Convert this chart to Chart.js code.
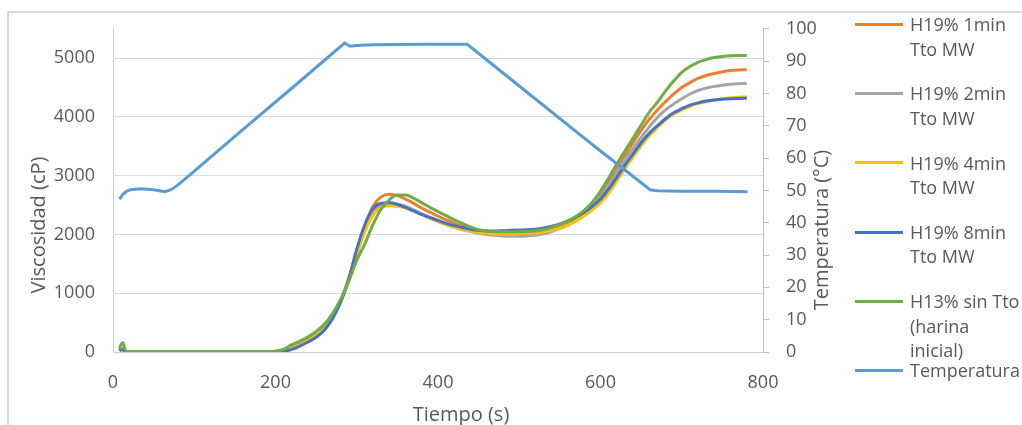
<!DOCTYPE html>
<html><head><meta charset="utf-8">
<script src="https://cdn.jsdelivr.net/npm/chart.js@4"></script>
<style>
html,body{margin:0;padding:0;background:#fff;overflow:hidden;width:1022px;height:425px;}
#wrap{position:relative;width:1022px;height:425px;overflow:hidden;}
#frame{position:absolute;left:7px;top:11px;width:1200px;height:600px;border:2px solid #d9d9d9;}
#c{position:absolute;left:0;top:0;}
#legend{position:absolute;left:0;top:0;width:1022px;height:425px;font-family:'Open Sans';font-size:18px;color:#595959;}
.sw{position:absolute;left:855px;width:48px;height:3px;}
.tx{position:absolute;left:910px;line-height:24.5px;white-space:nowrap;}
</style></head>
<body><div id="wrap"><div id="frame"></div><canvas id="c" width="1022" height="425"></canvas><div id="legend"></div></div>
<script>
// ---- data ----
const time = [8,10,12,14,16,20,40,80,120,160,190,200,210,220,230,240,250,260,270,280,290,300,310,320,330,340,350,360,370,380,390,400,410,420,430,440,450,460,470,480,490,500,510,520,530,540,550,560,570,580,590,600,610,620,630,640,650,660,670,680,690,700,710,720,730,740,750,760,770,780];
const h19_1min = [30,60,60,25,5,2,2,2,0,0,5,15,40,90,150,220,300,430,620,880,1250,1720,2150,2480,2640,2685,2660,2600,2530,2450,2380,2310,2250,2190,2140,2100,2070,2050,2030,2020,2020,2020,2025,2035,2055,2090,2140,2200,2280,2380,2510,2690,2900,3120,3340,3560,3770,3960,4120,4260,4390,4500,4585,4655,4705,4740,4770,4790,4800,4805];
const h19_2min = [30,60,60,25,5,2,2,2,0,0,5,10,30,75,130,200,290,420,610,870,1230,1680,2100,2400,2500,2540,2520,2480,2420,2350,2280,2220,2170,2120,2080,2050,2020,2000,1985,1975,1970,1970,1975,1985,2010,2050,2100,2160,2240,2340,2470,2640,2830,3050,3270,3460,3650,3830,3990,4120,4220,4310,4390,4450,4490,4520,4540,4555,4565,4570];
const h19_4min = [30,60,60,25,5,2,2,2,0,0,5,10,30,70,120,190,280,400,590,860,1220,1650,2050,2330,2460,2490,2480,2450,2400,2340,2280,2220,2170,2120,2090,2060,2040,2020,2010,2010,2010,2015,2020,2025,2040,2070,2110,2160,2230,2320,2420,2540,2700,2910,3120,3320,3510,3680,3820,3950,4050,4120,4180,4230,4260,4290,4310,4325,4335,4340];
const h19_8min = [20,40,40,15,3,0,0,0,0,0,0,0,10,45,100,170,250,370,560,840,1230,1750,2170,2440,2530,2540,2510,2460,2400,2340,2290,2240,2190,2150,2120,2090,2070,2060,2060,2065,2070,2075,2080,2090,2110,2140,2180,2230,2300,2380,2480,2600,2770,2970,3180,3370,3560,3720,3850,3970,4070,4140,4200,4240,4270,4290,4300,4310,4315,4318];
const h13_sin = [60,130,160,80,10,5,5,5,3,3,5,15,45,125,185,260,350,470,650,890,1200,1560,1840,2170,2430,2590,2670,2670,2620,2540,2460,2390,2320,2250,2190,2130,2080,2060,2050,2045,2045,2045,2050,2060,2080,2120,2170,2230,2310,2410,2550,2740,2960,3200,3420,3640,3860,4080,4250,4440,4610,4760,4860,4930,4975,5010,5030,5040,5045,5045];
const tempTime = [8,12,17,23,35,50,64,72,80,90,150,220,285,292,300,320,380,436,500,575,600,625,661,670,700,740,781];
const tempC = [47.3,48.7,49.8,50.3,50.5,50.2,49.6,50.3,51.7,53.8,66.7,81.6,95.6,94.6,94.8,95.1,95.2,95.2,82.3,67.2,62.2,57.3,50.2,49.9,49.7,49.7,49.6];
const seriesLabels = [["H19% 1min","Tto MW"],["H19% 2min","Tto MW"],["H19% 4min","Tto MW"],["H19% 8min","Tto MW"],["H13% sin Tto","(harina","inicial)"],["Temperatura"]];
const xTicks = [0,200,400,600,800];
const yLeftTicks = [0,1000,2000,3000,4000,5000];
const yRightTicks = [0,10,20,30,40,50,60,70,80,90,100];
const xTitle = "Tiempo (s)";
const yLeftTitle = "Viscosidad (cP)";
const yRightTitle = "Temperatura (°C)";
// ---- styling ----
const colors = ["#ED7D31","#A5A5A5","#FFC000","#4472C4","#70AD47","#5B9BD5"];
const FONT = "'Open Sans'";
const TXT = "#595959";

const toXY = (xs, ys) => xs.map((x, i) => ({x, y: ys[i]}));
const visc = [h19_1min, h19_2min, h19_4min, h19_8min, h13_sin];
const datasets = visc.map((vals, i) => ({
  label: seriesLabels[i].join(' '),
  data: toXY(time, vals),
  borderColor: colors[i], backgroundColor: colors[i],
  borderWidth: 3, pointRadius: 0, tension: 0.4, cubicInterpolationMode: 'monotone',
  yAxisID: 'y', order: 6 - i
}));
datasets.push({
  label: seriesLabels[5].join(' '),
  data: toXY(tempTime, tempC),
  borderColor: colors[5], backgroundColor: colors[5],
  borderWidth: 3, pointRadius: 0, tension: 0, yAxisID: 'y1', order: 0
});

const axisTitles = {
  id: 'axisTitles',
  afterDraw(chart) {
    const ctx = chart.ctx;
    ctx.save();
    ctx.fillStyle = TXT;
    ctx.font = "20px " + FONT;
    ctx.textAlign = 'center';
    ctx.textBaseline = 'alphabetic';
    ctx.fillText(xTitle, 461, 421);
    ctx.save(); ctx.translate(45, 225); ctx.rotate(-Math.PI/2); ctx.fillText(yLeftTitle, 0, 0); ctx.restore();
    ctx.save(); ctx.translate(828, 230); ctx.rotate(-Math.PI/2); ctx.fillText(yRightTitle, 0, 0); ctx.restore();
    ctx.restore();
  }
};

const tickFont = {family: FONT, size: 18};
const plain = v => String(v);
new Chart(document.getElementById('c'), {
  type: 'line',
  data: {datasets},
  options: {
    responsive: false, animation: false,
    layout: {padding: {top: 27, left: 0, right: 0, bottom: 0}},
    plugins: {legend: {display: false}, tooltip: {enabled: false}},
    scales: {
      x: {
        type: 'linear', min: 0, max: 800,
        afterBuildTicks: s => { s.ticks = xTicks.map(v => ({value: v})); },
        afterFit: s => { s.height = 73; },
        ticks: {font: tickFont, color: TXT, padding: 12, callback: plain},
        grid: {display: false},
        border: {display: true, color: '#d0d0d0', width: 1}
      },
      y: {
        position: 'left', min: 0, max: 5500,
        afterBuildTicks: s => { s.ticks = yLeftTicks.map(v => ({value: v})); },
        afterFit: s => { s.width = 113; },
        ticks: {font: tickFont, color: TXT, padding: 18, callback: plain},
        grid: {color: '#d9d9d9', drawTicks: false, lineWidth: 1},
        border: {display: true, color: '#d0d0d0', width: 1}
      },
      y1: {
        position: 'right', min: 0, max: 100,
        afterBuildTicks: s => { s.ticks = yRightTicks.map(v => ({value: v})); },
        afterFit: s => { s.width = 259; },
        ticks: {font: tickFont, color: TXT, padding: 17, callback: plain},
        grid: {drawOnChartArea: false, drawTicks: true, tickLength: 6, color: '#bfbfbf'},
        border: {display: true, color: '#bfbfbf', width: 1}
      }
    }
  },
  plugins: [axisTitles]
});

// legend (built from the series labels and colours)
const leg = document.getElementById('legend');
seriesLabels.forEach((lines, i) => {
  const cy = 24.5 + i * 69.2;
  const sw = document.createElement('div');
  sw.className = 'sw'; sw.style.top = (cy - 1.5) + 'px'; sw.style.background = colors[i];
  const tx = document.createElement('div');
  tx.className = 'tx'; tx.style.top = (cy - 12.25) + 'px';
  tx.innerHTML = lines.join('<br>');
  leg.appendChild(sw); leg.appendChild(tx);
});
</script>
</body></html>
